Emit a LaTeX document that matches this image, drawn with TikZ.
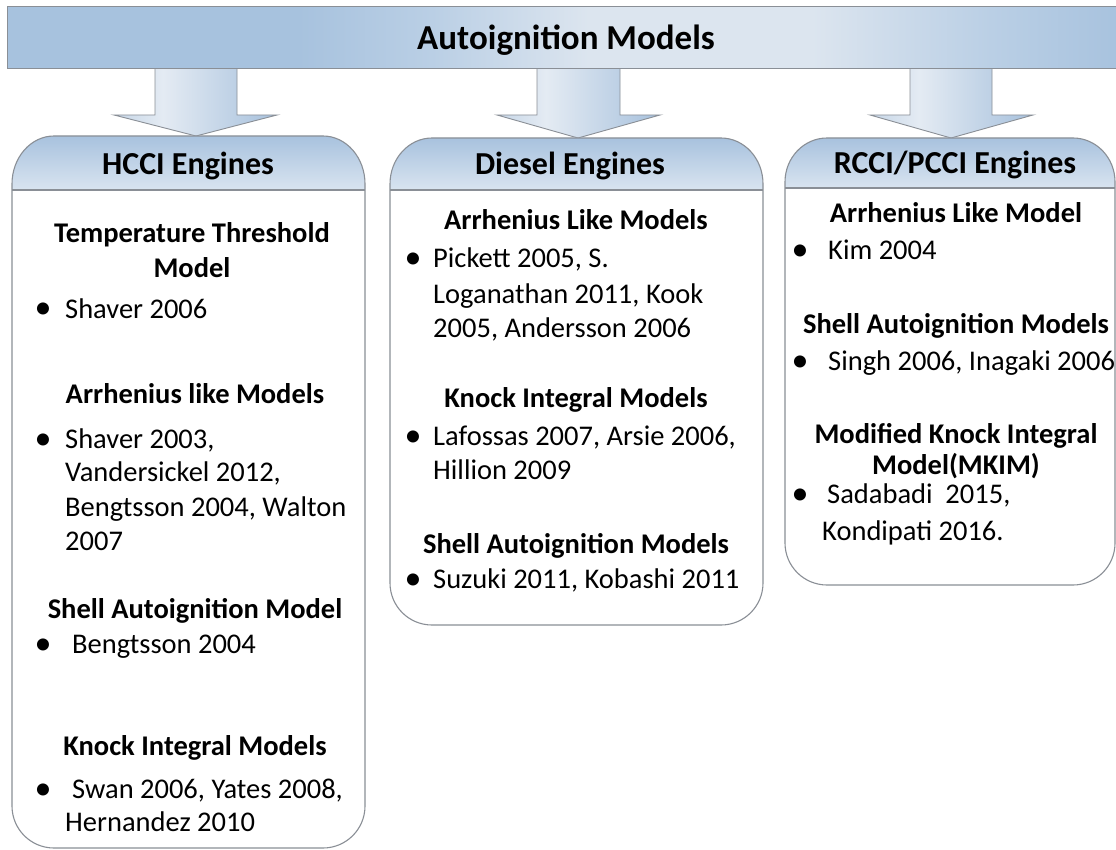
\documentclass[tikz,border=0pt]{standalone}
\usepackage{fontspec}
\setmainfont{Carlito}
\definecolor{bnA}{HTML}{A7C2DE}
\definecolor{bnB}{HTML}{BACFE5}
\definecolor{bnW}{HTML}{DCE5EF}
\definecolor{arL}{HTML}{C6D6E7}
\definecolor{arW}{HTML}{E4EBF3}
\definecolor{arR}{HTML}{A7C1DD}
\definecolor{hdT}{HTML}{A8C2DE}
\definecolor{hdB}{HTML}{D9E4F0}
\definecolor{edge}{HTML}{8A8F96}
\pgfdeclarehorizontalshading{bannershade}{100bp}{color(0bp)=(bnA); color(25bp)=(bnA); color(38bp)=(bnA); color(44bp)=(bnB); color(51bp)=(bnW); color(61bp)=(bnW); color(69bp)=(bnB); color(75bp)=(bnA); color(100bp)=(bnA)}
\pgfdeclarehorizontalshading{arrowshade}{100bp}{color(0bp)=(arL); color(25bp)=(arL); color(40bp)=(arW); color(75bp)=(arR); color(100bp)=(arR)}
\begin{document}
\begin{tikzpicture}[x=1pt,y=1pt,
  outl/.style={draw=edge,line width=1.1pt},
  hdrfill/.style={top color=hdT,bottom color=hdB},
  arrowshape/.style={shading=arrowshade,draw=edge,line width=0.9pt},
  ttl/.style={font=\fontsize{35}{40}\selectfont\bfseries,anchor=base,inner sep=0pt},
  hdr/.style={font=\fontsize{32}{36}\selectfont\bfseries,anchor=base,inner sep=0pt},
  head/.style={font=\fontsize{28.5}{34}\selectfont\bfseries,anchor=base,inner sep=0pt},
  body/.style={font=\fontsize{28.5}{34}\selectfont,anchor=base west,inner sep=0pt},
  bul/.style={font=\fontsize{34}{34}\selectfont,anchor=base,inner sep=0pt,yshift=-1pt}]
\useasboundingbox (0,-850) rectangle (1116,0);
\clip (0,-850) rectangle (1116,0);
\fill[white] (0,-850) rectangle (1116,0);

% arrows
\path[arrowshape] (155,-60) -- (155,-115) -- (114,-115) -- (196,-136) -- (277,-115) -- (237,-115) -- (237,-60) -- cycle;
\path[arrowshape] (537,-60) -- (537,-115) -- (497,-115) -- (578,-138) -- (660,-115) -- (620,-115) -- (620,-60) -- cycle;
\path[arrowshape] (910,-60) -- (910,-115) -- (870,-115) -- (951,-138) -- (1033,-115) -- (992,-115) -- (992,-60) -- cycle;

% banner
\path[shading=bannershade,draw=edge,line width=1pt] (7,-69) rectangle (1125,-7);
\node[ttl] (title) at (566,-50) {Autoignition Models};

% HCCI box
\path[fill=white] (12,-184) arc[start angle=180,end angle=90,x radius=42,y radius=48] -- (323,-136) arc[start angle=90,end angle=0,x radius=42,y radius=48] -- (365,-806) arc[start angle=0,end angle=-90,radius=42] -- (54,-848) arc[start angle=270,end angle=180,radius=42] -- cycle;
\path[hdrfill] (12,-190) -- (12,-184) arc[start angle=180,end angle=90,x radius=42,y radius=48] -- (323,-136) arc[start angle=90,end angle=0,x radius=42,y radius=48] -- (365,-190) -- cycle;
\path[outl] (12,-184) arc[start angle=180,end angle=90,x radius=42,y radius=48] -- (323,-136) arc[start angle=90,end angle=0,x radius=42,y radius=48] -- (365,-806) arc[start angle=0,end angle=-90,radius=42] -- (54,-848) arc[start angle=270,end angle=180,radius=42] -- cycle;
\draw[outl] (12,-190) -- (365,-190);

% Diesel box
\path[fill=white] (390,-184) arc[start angle=180,end angle=90,x radius=42,y radius=46] -- (721,-138) arc[start angle=90,end angle=0,x radius=42,y radius=46] -- (763,-583) arc[start angle=0,end angle=-90,radius=42] -- (432,-625) arc[start angle=270,end angle=180,radius=42] -- cycle;
\path[hdrfill] (390,-190) -- (390,-184) arc[start angle=180,end angle=90,x radius=42,y radius=46] -- (721,-138) arc[start angle=90,end angle=0,x radius=42,y radius=46] -- (763,-190) -- cycle;
\path[outl] (390,-184) arc[start angle=180,end angle=90,x radius=42,y radius=46] -- (721,-138) arc[start angle=90,end angle=0,x radius=42,y radius=46] -- (763,-583) arc[start angle=0,end angle=-90,radius=42] -- (432,-625) arc[start angle=270,end angle=180,radius=42] -- cycle;
\draw[outl] (390,-190) -- (763,-190);

% RCCI box
\path[fill=white] (785,-182) arc[start angle=180,end angle=90,x radius=42,y radius=44] -- (1073,-138) arc[start angle=90,end angle=0,x radius=42,y radius=44] -- (1115,-543) arc[start angle=0,end angle=-90,radius=42] -- (827,-585) arc[start angle=270,end angle=180,radius=42] -- cycle;
\path[hdrfill] (785,-188) -- (785,-182) arc[start angle=180,end angle=90,x radius=42,y radius=44] -- (1073,-138) arc[start angle=90,end angle=0,x radius=42,y radius=44] -- (1115,-188) -- cycle;
\path[outl] (785,-182) arc[start angle=180,end angle=90,x radius=42,y radius=44] -- (1073,-138) arc[start angle=90,end angle=0,x radius=42,y radius=44] -- (1115,-543) arc[start angle=0,end angle=-90,radius=42] -- (827,-585) arc[start angle=270,end angle=180,radius=42] -- cycle;
\draw[outl] (785,-188) -- (1115,-188);

% headers
\node[hdr] (hcci) at (188,-175) {HCCI Engines};
\node[hdr] (diesel) at (570,-175) {Diesel Engines};
\node[hdr] (rcci) at (955,-174) {RCCI/PCCI Engines};

% HCCI content
\node[head] (h1a) at (192,-243) {Temperature Threshold};
\node[head] (h1b) at (192,-277) {Model};
\node[bul] (b1) at (43,-318) {•};
\node[body] (t1) at (65,-318) {Shaver 2006};
\node[head] (h2) at (195,-403) {Arrhenius like Models};
\node[bul] (b2) at (43,-448) {•};
\node[body] (t2a) at (65,-448) {Shaver 2003,};
\node[body] (t2b) at (65,-481) {Vandersickel 2012,};
\node[body] (t2c) at (65,-516) {Bengtsson 2004, Walton};
\node[body] (t2d) at (65,-550) {2007};
\node[head] (h3) at (195,-618) {Shell Autoignition Model};
\node[bul] (b3) at (43,-653) {•};
\node[body] (t3) at (72,-653) {Bengtsson 2004};
\node[head] (h4) at (195,-755) {Knock Integral Models};
\node[bul] (b4) at (43,-798) {•};
\node[body] (t4a) at (72,-798) {Swan 2006, Yates 2008,};
\node[body] (t4b) at (65,-831) {Hernandez 2010};

% Diesel content
\node[head] (d1) at (576,-230) {Arrhenius Like Models};
\node[bul] (db1) at (413,-268) {•};
\node[body] (dt1a) at (433,-268) {Pickett 2005, S.};
\node[body] (dt1b) at (433,-303) {Loganathan 2011, Kook};
\node[body] (dt1c) at (433,-337) {2005, Andersson 2006};
\node[head] (d2) at (576,-407) {Knock Integral Models};
\node[bul] (db2) at (413,-445) {•};
\node[body] (dt2a) at (433,-445) {Lafossas 2007, Arsie 2006,};
\node[body] (dt2b) at (433,-479) {Hillion 2009};
\node[head] (d3) at (576,-553) {Shell Autoignition Models};
\node[bul] (db3) at (413,-588) {•};
\node[body] (dt3) at (433,-588) {Suzuki 2011, Kobashi 2011};

% RCCI content
\node[head] (r1) at (956,-223) {Arrhenius Like Model};
\node[bul] (rb1) at (800,-260) {•};
\node[body] (rt1) at (828,-260) {Kim 2004};
\node[head] (r2) at (956,-333) {Shell Autoignition Models};
\node[bul] (rb2) at (800,-370) {•};
\node[body] (rt2) at (828,-370) {Singh 2006, Inagaki 2006};
\node[head] (r3a) at (956,-443) {Modified Knock Integral};
\node[head] (r3b) at (956,-474) {Model(MKIM)};
\node[bul] (rb3) at (800,-503) {•};
\node[body] (rt3a) at (827,-503) {Sadabadi\hspace{0.45em}2015,};
\node[body] (rt3b) at (822,-540) {Kondipati 2016.};
\end{tikzpicture}
\end{document}
